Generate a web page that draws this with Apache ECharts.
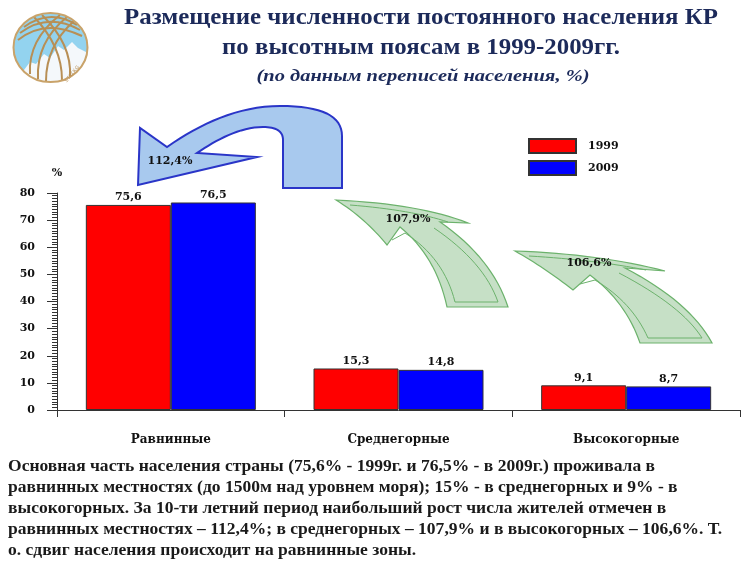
<!DOCTYPE html>
<html><head><meta charset="utf-8">
<script src="https://cdn.jsdelivr.net/npm/echarts@6/dist/echarts.min.js"></script>
<style>html,body{margin:0;padding:0;background:#fff}#c{width:741px;height:562px}</style>
</head><body><div id="c"></div>
<script>
const categories = ['Равнинные', 'Среднегорные', 'Высокогорные'];
const seriesNames = ['1999', '2009'];
const values1999 = [75.6, 15.3, 9.1];
const values2009 = [76.5, 14.8, 8.7];
const growthLabels = ['112,4%', '107,9%', '106,6%'];
const titleLines = ['Размещение численности постоянного населения КР', 'по высотным поясам в 1999-2009гг.'];
const subtitle = '(по данным переписей населения, %)';
const noteLines = [
  'Основная часть населения страны (75,6% - 1999г. и 76,5% - в 2009г.) проживала в',
  'равнинных местностях (до 1500м над уровнем моря); 15% - в среднегорных и 9% - в',
  'высокогорных. За 10-ти летний период наибольший рост числа жителей отмечен в',
  'равнинных местностях – 112,4%; в среднегорных – 107,9% и в высокогорных – 106,6%. Т.',
  'о. сдвиг населения происходит на равнинные зоны.'
];

const serif = '"DejaVu Serif", "Liberation Serif", serif';
const tserif = '"Liberation Serif", "DejaVu Serif", serif';
const navy = '#1c2a5a';
const fmt = v => String(v).replace('.', ',');

const mctx = document.createElement('canvas').getContext('2d');
function fitScale(text, font, target) { mctx.font = font; return target / mctx.measureText(text).width; }

function samplePath(cmds) {
  const out = [];
  let cx = 0, cy = 0;
  const N = 16;
  cmds.forEach(c => {
    const t = c[0];
    if (t === 'M' || t === 'L') { cx = c[1]; cy = c[2]; out.push([cx, cy]); }
    else if (t === 'Q') {
      const [, qx, qy, x, y] = c;
      for (let i = 1; i <= N; i++) {
        const s = i / N, u = 1 - s;
        out.push([u*u*cx + 2*u*s*qx + s*s*x, u*u*cy + 2*u*s*qy + s*s*y]);
      }
      cx = x; cy = y;
    } else if (t === 'C') {
      const [, ax, ay, bx, by, x, y] = c;
      for (let i = 1; i <= N; i++) {
        const s = i / N, u = 1 - s;
        out.push([u*u*u*cx + 3*u*u*s*ax + 3*u*s*s*bx + s*s*s*x, u*u*u*cy + 3*u*u*s*ay + 3*u*s*s*by + s*s*s*y]);
      }
      cx = x; cy = y;
    }
  });
  return out;
}
function ellipseArc(cx, cy, rx, ry, a0, a1, n) {
  const p = [];
  for (let i = 0; i <= n; i++) { const a = a0 + (a1 - a0) * i / n; p.push([cx + rx * Math.cos(a), cy + ry * Math.sin(a)]); }
  return p;
}

const chart = echarts.init(document.getElementById('c'), null, {renderer: 'canvas'});

const greenFill = '#c6e0c6', greenStroke = '#6cb26c';
const mountain = [[24, 70], [30, 62], [36, 64], [44, 54], [50, 58], [58, 46], [64, 50], [72, 42], [78, 48], [86, 52]]
  .concat(ellipseArc(50.5, 47.5, 37, 34.5, Math.atan2((52 - 47.5) / 34.5, (86 - 50.5) / 37), Math.PI - Math.atan2((70 - 47.5) / 34.5, (50.5 - 24) / 37), 30));
const goldCurves = [
  [18, 40, 45, 18, 82, 36], [20, 33, 48, 12, 80, 30], [24, 27, 50, 8, 77, 25],
  [30, 74, 28, 40, 60, 15], [38, 79, 36, 42, 67, 17], [46, 81, 46, 46, 74, 21],
  [70, 77, 72, 44, 42, 15], [62, 80, 62, 46, 34, 17]
];

const blueArrow = samplePath([['M', 138, 185], ['L', 140, 128], ['L', 167, 147], ['C', 200, 124, 238, 106, 280, 106], ['C', 322, 106, 342, 116, 342, 136], ['L', 342, 188], ['L', 283, 188], ['L', 283, 140], ['C', 283, 131, 276, 127, 263, 127], ['C', 240, 127, 216, 140, 197, 153], ['L', 257, 157]]);
const green1 = samplePath([['M', 336, 200], ['Q', 420, 204, 468, 223], ['L', 440, 222], ['Q', 492, 258, 508, 307], ['L', 447, 307], ['Q', 436, 256, 400, 227], ['L', 387, 245], ['Q', 365, 218, 336, 200]]);
const green1in = samplePath([['M', 350, 205], ['Q', 412, 210, 448, 222]]);
const green1in2 = samplePath([['M', 434, 228], ['Q', 484, 262, 498, 302], ['L', 455, 302], ['Q', 444, 258, 405, 233], ['L', 392, 240]]);
const green2 = samplePath([['M', 515, 251], ['Q', 600, 254, 665, 271], ['L', 625, 268], ['Q', 690, 302, 712, 343], ['L', 640, 343], ['Q', 626, 302, 590, 275], ['L', 573, 290], ['Q', 545, 268, 515, 251]]);
const green2in1 = samplePath([['M', 529, 256], ['Q', 596, 260, 646, 270]]);
const green2in2 = samplePath([['M', 619, 273], ['Q', 682, 306, 702, 338], ['L', 648, 338], ['Q', 632, 302, 595, 280], ['L', 580, 284]]);

const titleFont = 'bold 24px ' + tserif;
const subFont = 'italic bold 16px ' + tserif;
const noteFont = 'bold 17px ' + tserif;
const t1s = fitScale(titleLines[0], titleFont, 594);
const t2s = fitScale(titleLines[1], titleFont, 398);
const sbs = fitScale(subtitle, subFont, 333);
const nts = fitScale(noteLines[0], noteFont, 647);

const graphics = [
  {type: 'ellipse', shape: {cx: 50.5, cy: 47.5, rx: 37, ry: 34.5}, style: {fill: '#93d3ef', stroke: null}},
  {type: 'polygon', shape: {points: mountain}, style: {fill: '#f4f8fb', stroke: null}},
  ...goldCurves.map(c => ({type: 'bezierCurve', shape: {x1: c[0], y1: c[1], cpx1: c[2], cpy1: c[3], x2: c[4], y2: c[5]}, style: {fill: null, stroke: '#b88f55', lineWidth: 2}})),
  {type: 'ellipse', shape: {cx: 50.5, cy: 47.5, rx: 37, ry: 34.5}, style: {fill: null, stroke: '#c9a36a', lineWidth: 2}},
  {type: 'text', x: 72, y: 74, rotation: 0.9, style: {text: 'STAT.KG', font: '5px sans-serif', fill: '#b88f55', align: 'center', verticalAlign: 'middle'}},
  {type: 'text', x: 421, y: 18, scaleX: t1s, style: {text: titleLines[0], font: titleFont, fill: navy, align: 'center', verticalAlign: 'middle'}},
  {type: 'text', x: 421, y: 48, scaleX: t2s, style: {text: titleLines[1], font: titleFont, fill: navy, align: 'center', verticalAlign: 'middle'}},
  {type: 'text', x: 423, y: 77, scaleX: sbs, style: {text: subtitle, font: subFont, fill: navy, align: 'center', verticalAlign: 'middle'}},
  {type: 'polygon', z: 10, shape: {points: blueArrow}, style: {fill: '#a8c9ee', stroke: '#2a35c8', lineWidth: 2}},
  {type: 'text', z: 11, x: 170, y: 161, style: {text: growthLabels[0], font: 'bold 11px ' + serif, fill: '#111', align: 'center', verticalAlign: 'middle'}},
  {type: 'polygon', z: 10, shape: {points: green1}, style: {fill: greenFill, stroke: greenStroke, lineWidth: 1.2}},
  {type: 'polyline', z: 10, shape: {points: green1in}, style: {fill: null, stroke: greenStroke, lineWidth: 1}},
  {type: 'polyline', z: 10, shape: {points: green1in2}, style: {fill: null, stroke: greenStroke, lineWidth: 1}},
  {type: 'text', z: 11, x: 408, y: 219, style: {text: growthLabels[1], font: 'bold 11px ' + serif, fill: '#111', align: 'center', verticalAlign: 'middle'}},
  {type: 'polygon', z: 10, shape: {points: green2}, style: {fill: greenFill, stroke: greenStroke, lineWidth: 1.2}},
  {type: 'polyline', z: 10, shape: {points: green2in1}, style: {fill: null, stroke: greenStroke, lineWidth: 1}},
  {type: 'polyline', z: 10, shape: {points: green2in2}, style: {fill: null, stroke: greenStroke, lineWidth: 1}},
  {type: 'text', z: 11, x: 589, y: 263, style: {text: growthLabels[2], font: 'bold 11px ' + serif, fill: '#111', align: 'center', verticalAlign: 'middle'}},
  {type: 'text', x: 8, y: 456, scaleX: nts, style: {text: noteLines.join('\n'), font: noteFont, lineHeight: 21, fill: '#1a1a1a', align: 'left', verticalAlign: 'top'}}
];

const option = {
  animation: false,
  backgroundColor: '#fff',
  grid: {left: 57, right: 1, top: 193, bottom: 152, containLabel: false},
  legend: {
    orient: 'vertical', left: 528, top: 138, padding: 0, itemWidth: 47, itemHeight: 14, itemGap: 6,
    icon: 'rect', data: seriesNames,
    textStyle: {fontFamily: serif, fontWeight: 'bold', fontSize: 11, color: '#111', padding: [0, 0, 0, 7]}
  },
  xAxis: {
    type: 'category', data: categories, boundaryGap: true,
    axisLine: {lineStyle: {color: '#333', width: 1}},
    axisTick: {show: true, length: 7, lineStyle: {color: '#333'}},
    axisLabel: {margin: 24, fontFamily: serif, fontWeight: 'bold', fontSize: 12, color: '#111'}
  },
  yAxis: {
    type: 'value', min: 0, max: 80, interval: 10,
    name: '%', nameLocation: 'end', nameGap: 14,
    nameTextStyle: {fontFamily: serif, fontWeight: 'bold', fontSize: 11, color: '#111', align: 'center'},
    axisLine: {show: true, lineStyle: {color: '#333', width: 1}},
    axisTick: {show: true, length: 10, lineStyle: {color: '#333'}},
    minorTick: {show: true, splitNumber: 10, length: 5, lineStyle: {color: '#333'}},
    splitLine: {show: false},
    axisLabel: {margin: 22, fontFamily: serif, fontWeight: 'bold', fontSize: 11, color: '#111'}
  },
  series: [
    {name: seriesNames[0], type: 'bar', data: values1999, barWidth: 85, barGap: '0%',
     itemStyle: {color: '#ff0000', borderColor: '#333', borderWidth: 1},
     label: {show: true, position: 'top', distance: 2, formatter: p => fmt(p.value), fontFamily: serif, fontWeight: 'bold', fontSize: 11, color: '#111'}},
    {name: seriesNames[1], type: 'bar', data: values2009, barWidth: 85, barGap: '0%',
     itemStyle: {color: '#0000ff', borderColor: '#333', borderWidth: 1},
     label: {show: true, position: 'top', distance: 2, formatter: p => fmt(p.value), fontFamily: serif, fontWeight: 'bold', fontSize: 11, color: '#111'}}
  ],
  graphic: graphics
};
chart.setOption(option);
</script></body></html>
